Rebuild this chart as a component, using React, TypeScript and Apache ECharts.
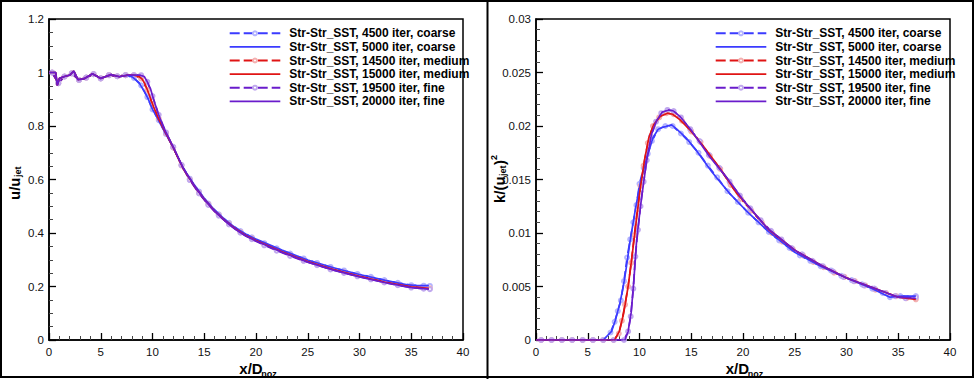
import React, { useEffect, useRef } from "react";
import * as echarts from "echarts";

type Pt = [number, number];

const SERIES_NAMES = [
  "Str-Str_SST, 4500 iter, coarse",
  "Str-Str_SST, 5000 iter, coarse",
  "Str-Str_SST, 14500 iter, medium",
  "Str-Str_SST, 15000 iter, medium",
  "Str-Str_SST, 19500 iter, fine",
  "Str-Str_SST, 20000 iter, fine",
];

const X_RANGE = [0, 40, 5];
const U_RANGE = [0, 1.2, 0.2];
const K_RANGE = [0, 0.03, 0.005];

// ---------- left panel: u/u_jet ----------
const uCoarse4500: Pt[] = [[0.3,1.0],[0.9,0.96],[1.5,0.985],[2.2,0.997],[2.9,0.972],[3.6,0.981],[4.3,0.994],[5.0,0.978],[5.8,0.99],[6.6,0.986],[7.4,0.99],[8.2,0.98],[8.9,0.952],[9.5,0.908],[10.0,0.862],[10.6,0.822],[11.3,0.77],[12,0.72],[12.8,0.655],[13.6,0.603],[14.5,0.555],[15.4,0.51],[16.4,0.47],[17.4,0.438],[18.5,0.407],[19.6,0.384],[20.8,0.362],[22,0.343],[23.3,0.323],[24.6,0.305],[25.9,0.288],[27.2,0.273],[28.5,0.26],[29.8,0.247],[31.1,0.236],[32.4,0.224],[33.7,0.214],[35,0.205],[36.2,0.203],[36.8,0.202]];
const uCoarse5000: Pt[] = [[0,1.0],[0.65,1.0],[0.8,0.952],[1.0,0.978],[1.5,0.985],[2.0,0.99],[2.4,1.005],[2.8,0.973],[3.4,0.977],[4.2,0.995],[5.0,0.978],[6.0,0.992],[6.8,0.984],[7.6,0.99],[8.1,0.982],[8.7,0.962],[9.2,0.93],[9.6,0.9],[10.0,0.862],[10.5,0.828],[11,0.79],[12,0.72],[13,0.64],[14,0.582],[15,0.53],[16,0.486],[17,0.45],[18,0.42],[19,0.396],[20,0.377],[22.5,0.336],[25,0.299],[27.5,0.27],[30,0.245],[32.5,0.223],[34.5,0.207],[35.5,0.203],[36.7,0.203]];
const uMedium14500: Pt[] = [[0.3,1.0],[0.9,0.96],[1.5,0.985],[2.2,0.997],[2.9,0.972],[3.6,0.981],[4.3,0.994],[5.0,0.978],[5.8,0.99],[6.6,0.986],[7.4,0.99],[8.2,0.99],[8.9,0.978],[9.5,0.935],[10.0,0.88],[10.6,0.828],[11.3,0.773],[12,0.72],[12.8,0.653],[13.6,0.6],[14.5,0.55],[15.4,0.507],[16.4,0.467],[17.4,0.434],[18.5,0.403],[19.6,0.38],[20.8,0.357],[22,0.337],[23.3,0.317],[24.6,0.298],[25.9,0.282],[27.2,0.266],[28.5,0.253],[29.8,0.24],[31.1,0.229],[32.4,0.217],[33.7,0.207],[35,0.199],[36.2,0.195],[36.8,0.193]];
const uMedium15000: Pt[] = [[0,1.0],[0.65,1.0],[0.8,0.952],[1.0,0.978],[1.5,0.985],[2.0,0.99],[2.4,1.005],[2.8,0.973],[3.4,0.977],[4.2,0.995],[5.0,0.978],[6.0,0.992],[6.8,0.984],[7.6,0.99],[8.2,0.99],[8.7,0.985],[9.0,0.975],[9.3,0.955],[9.6,0.925],[10.1,0.872],[10.5,0.835],[11,0.795],[12,0.72],[13,0.638],[14,0.578],[15,0.526],[16,0.482],[17,0.446],[18,0.416],[19,0.391],[20,0.372],[22.5,0.33],[25,0.293],[27.5,0.263],[30,0.238],[32.5,0.216],[35,0.199],[36.7,0.193]];
const uFine19500: Pt[] = [[0.3,1.0],[0.9,0.96],[1.5,0.985],[2.2,0.997],[2.9,0.972],[3.6,0.981],[4.3,0.994],[5.0,0.978],[5.8,0.99],[6.6,0.986],[7.4,0.99],[8.2,0.99],[8.9,0.99],[9.5,0.965],[10.0,0.912],[10.6,0.842],[11.3,0.776],[12,0.722],[12.8,0.653],[13.6,0.598],[14.5,0.548],[15.4,0.505],[16.4,0.465],[17.4,0.432],[18.5,0.401],[19.6,0.377],[20.8,0.354],[22,0.334],[23.3,0.314],[24.6,0.296],[25.9,0.28],[27.2,0.264],[28.5,0.251],[29.8,0.238],[31.1,0.227],[32.4,0.215],[33.7,0.205],[35,0.196],[36.2,0.192],[36.8,0.19]];
const uFine20000: Pt[] = [[0,1.0],[0.65,1.0],[0.8,0.952],[1.0,0.978],[1.5,0.985],[2.0,0.99],[2.4,1.005],[2.8,0.973],[3.4,0.977],[4.2,0.995],[5.0,0.978],[6.0,0.992],[6.8,0.984],[7.6,0.99],[8.2,0.99],[8.8,0.99],[9.2,0.985],[9.5,0.965],[9.8,0.94],[10.1,0.9],[10.5,0.852],[11,0.8],[12,0.722],[13,0.64],[14,0.578],[15,0.525],[16,0.481],[17,0.445],[18,0.414],[19,0.389],[20,0.37],[22.5,0.328],[25,0.291],[27.5,0.261],[30,0.236],[32.5,0.214],[35,0.196],[36.7,0.19]];

// ---------- right panel: k/(u_jet)^2 ----------
const kCoarse4500: Pt[] = [[0.5,0],[1.5,0],[2.5,0],[3.5,0],[4.5,0],[5.5,0],[6.5,0],[7.2,0.0007],[7.6,0.0017],[7.9,0.0027],[8.2,0.0037],[8.5,0.0055],[8.8,0.0077],[9.1,0.0094],[9.4,0.011],[9.7,0.0126],[10.0,0.0146],[10.4,0.0161],[10.8,0.0174],[11.2,0.0186],[11.8,0.0197],[12.5,0.02],[13.2,0.02],[14.0,0.0193],[14.8,0.0185],[15.7,0.0175],[16.6,0.0163],[17.5,0.0152],[18.5,0.0139],[19.5,0.0129],[20.5,0.0119],[21.5,0.011],[22.5,0.0101],[23.5,0.0093],[24.5,0.0086],[25.5,0.0079],[26.5,0.0074],[27.5,0.0069],[28.5,0.0065],[29.5,0.006],[30.5,0.0056],[31.5,0.0052],[32.5,0.0048],[33.5,0.0044],[34.2,0.004],[35.2,0.0041],[36.7,0.0041]];
const kCoarse5000: Pt[] = [[0,0],[6.5,0],[7.3,0.0008],[7.65,0.0018],[8.1,0.0034],[8.45,0.0051],[8.7,0.0066],[9.1,0.0093],[9.6,0.0122],[10.1,0.0148],[10.7,0.017],[11.3,0.0189],[11.8,0.0197],[12.3,0.0199],[13.1,0.0201],[13.6,0.0197],[14.5,0.0189],[15.5,0.0177],[17,0.0157],[18.7,0.0137],[20.3,0.0121],[22.5,0.0101],[25,0.0082],[27.5,0.0069],[30,0.0058],[32.5,0.0048],[34.2,0.004],[35.2,0.0041],[36.7,0.0041]];
const kMedium14500: Pt[] = [[0.5,0],[1.5,0],[2.5,0],[3.5,0],[4.5,0],[5.5,0],[6.5,0],[7.5,0],[8.0,0.0006],[8.3,0.0018],[8.6,0.0033],[8.9,0.005],[9.2,0.0072],[9.5,0.0098],[9.8,0.0122],[10.1,0.0144],[10.4,0.0163],[10.8,0.0184],[11.3,0.02],[11.9,0.0208],[12.6,0.0212],[13.3,0.0211],[14.1,0.0205],[15.0,0.0195],[15.9,0.0185],[16.8,0.0172],[17.8,0.016],[18.8,0.0145],[19.8,0.0132],[20.8,0.0121],[21.8,0.011],[22.8,0.01],[23.8,0.0092],[24.8,0.0085],[25.8,0.0079],[26.8,0.0073],[27.8,0.0068],[28.8,0.0063],[29.8,0.0059],[30.8,0.0055],[31.8,0.0051],[32.8,0.0047],[33.8,0.0044],[34.8,0.0041],[35.8,0.0039],[36.7,0.0038]];
const kMedium15000: Pt[] = [[0,0],[7.6,0],[8.05,0.0008],[8.45,0.0024],[8.9,0.005],[9.25,0.0076],[9.6,0.0104],[10.05,0.014],[10.5,0.0169],[10.9,0.0189],[11.35,0.0201],[12.0,0.0209],[12.7,0.0212],[13.2,0.0211],[13.9,0.0206],[14.9,0.0196],[16.1,0.0182],[17.8,0.016],[19.4,0.0137],[20.5,0.0125],[22.5,0.0103],[25,0.0084],[27.5,0.007],[30,0.0058],[32.5,0.0049],[35,0.004],[36.7,0.0038]];
const kFine19500: Pt[] = [[0.5,0],[1.5,0],[2.5,0],[3.5,0],[4.5,0],[5.5,0],[6.5,0],[7.5,0],[8.5,0],[8.9,0.0008],[9.15,0.0022],[9.4,0.0048],[9.6,0.0078],[9.85,0.0103],[10.1,0.0125],[10.4,0.0148],[10.7,0.0168],[11.1,0.019],[11.6,0.0204],[12.1,0.0212],[12.7,0.0215],[13.3,0.0214],[14.0,0.0208],[14.9,0.0197],[15.8,0.0186],[16.7,0.0173],[17.7,0.0161],[18.7,0.0148],[19.7,0.0135],[20.7,0.0123],[21.7,0.0112],[22.7,0.0102],[23.7,0.0094],[24.7,0.0086],[25.7,0.008],[26.7,0.0074],[27.7,0.0069],[28.7,0.0064],[29.7,0.0059],[30.7,0.0055],[31.7,0.0051],[32.7,0.0048],[33.7,0.0044],[34.7,0.0041],[35.7,0.0039],[36.7,0.004]];
const kFine20000: Pt[] = [[0,0],[8.6,0],[8.9,0.0008],[9.2,0.0026],[9.45,0.0055],[9.72,0.0093],[10.0,0.0117],[10.2,0.0133],[10.5,0.0154],[10.75,0.0171],[11.15,0.0192],[11.65,0.0205],[12.2,0.0213],[12.8,0.0215],[13.3,0.0214],[14.0,0.0208],[15.0,0.0196],[16.8,0.0171],[18.4,0.0152],[20,0.0131],[22.3,0.0105],[25,0.0084],[27.5,0.007],[30,0.0058],[32.5,0.0049],[35,0.004],[36.7,0.0039]];

const LINE_COLORS = ["#3b3bff", "#3b3bff", "#e01414", "#e01414", "#6a1ccc", "#6a1ccc"];
const MARKER_COLORS = ["#b4b4ff", "#b4b4ff", "#f4b0b0", "#f4b0b0", "#c0a8ee", "#c0a8ee"];
const DASHED = [true, false, true, false, true, false];

const U_DATA = [uCoarse4500, uCoarse5000, uMedium14500, uMedium15000, uFine19500, uFine20000];
const K_DATA = [kCoarse4500, kCoarse5000, kMedium14500, kMedium15000, kFine19500, kFine20000];

const FONT = '"Liberation Sans", Arial, Helvetica, sans-serif';

function makeSeries(data: Pt[], i: number, axis: number) {
  const dashed = DASHED[i];
  return {
    type: "line",
    name: SERIES_NAMES[i],
    xAxisIndex: axis,
    yAxisIndex: axis,
    data,
    silent: true,
    z: dashed ? 2 : 3,
    symbol: dashed ? "emptyCircle" : "none",
    showSymbol: dashed,
    symbolSize: 4,
    lineStyle: { color: LINE_COLORS[i], width: 1.7, type: dashed ? [10, 4] : "solid" },
    itemStyle: { color: dashed ? MARKER_COLORS[i] : LINE_COLORS[i], borderWidth: 1 },
    emphasis: { disabled: true },
  };
}

function makeXAxis(idx: number) {
  return {
    type: "value",
    gridIndex: idx,
    min: X_RANGE[0],
    max: X_RANGE[1],
    interval: X_RANGE[2],
    axisLine: { show: true, onZero: false, lineStyle: { color: "#000", width: 1.5 } },
    axisTick: { show: true, inside: true, length: 7, lineStyle: { color: "#000", width: 1.3 } },
    minorTick: { show: true, splitNumber: 5, length: 4, lineStyle: { color: "#444", width: 1 } },
    splitLine: { show: false },
    axisLabel: { color: "#111", fontSize: 11.5, fontFamily: FONT, margin: 6 },
  };
}

function makeYAxis(idx: number, range: number[], minorSplit: number) {
  return {
    type: "value",
    gridIndex: idx,
    min: range[0],
    max: range[1],
    interval: range[2],
    axisLine: { show: true, onZero: false, lineStyle: { color: "#000", width: 1.5 } },
    axisTick: { show: true, inside: true, length: 7, lineStyle: { color: "#000", width: 1.3 } },
    minorTick: { show: true, splitNumber: minorSplit, length: 4, lineStyle: { color: "#444", width: 1 } },
    splitLine: { show: false },
    axisLabel: { color: "#111", fontSize: 11.5, fontFamily: FONT, margin: 5 },
  };
}

function makeLegend(left: number) {
  return {
    orient: "vertical",
    left,
    top: 26.5,
    padding: 0,
    itemWidth: 50.6,
    itemHeight: 5,
    itemGap: 0,
    selectedMode: false,
    textStyle: { color: "#000", fontSize: 12, fontWeight: "bold", fontFamily: FONT, lineHeight: 13.6, padding: [0, 0, 0, 4] },
    data: SERIES_NAMES.map((n, i) =>
      DASHED[i] ? { name: n } : { name: n, icon: "path://M0,0H50V1.7H0Z" }
    ),
  };
}

function t(text: string, x: number, y: number, size: number) {
  return {
    type: "text",
    x,
    y,
    style: {
      text,
      fill: "#000",
      font: `bold ${size}px ${FONT}`,
      textAlign: "left",
      textVerticalAlign: "middle",
      align: "left",
      verticalAlign: "middle",
    },
  };
}

export default function App() {
  const ref = useRef<HTMLDivElement>(null);
  useEffect(() => {
    document.body.style.margin = "0";
    const chart = echarts.init(ref.current!, null, { renderer: "svg", width: 975, height: 379 });
    const option: any = {
      animation: false,
      backgroundColor: "#fff",
      grid: [
        { left: 49, top: 19, width: 414, height: 321, show: true, borderColor: "#000", borderWidth: 1.5, backgroundColor: "transparent" },
        { left: 536, top: 19, width: 414, height: 321, show: true, borderColor: "#000", borderWidth: 1.5, backgroundColor: "transparent" },
      ],
      xAxis: [makeXAxis(0), makeXAxis(1)],
      yAxis: [makeYAxis(0, U_RANGE, 4), makeYAxis(1, K_RANGE, 5)],
      legend: [makeLegend(228.7), makeLegend(714.7)],
      series: [
        ...U_DATA.map((d, i) => makeSeries(d, i, 0)),
        ...K_DATA.map((d, i) => makeSeries(d, i, 1)),
      ],
      graphic: [
        { type: "rect", shape: { x: 1, y: 1, width: 972, height: 376 }, style: { fill: "none", stroke: "#000", lineWidth: 2 } },
        { type: "line", shape: { x1: 487.5, y1: 0, x2: 487.5, y2: 379 }, style: { stroke: "#000", lineWidth: 2 } },
        { type: "group", x: 14, y: 200, rotation: Math.PI / 2, children: [t("u/u", 0, 0, 15), t("jet", 23, 4, 9)] },
        { type: "group", x: 499, y: 203, rotation: Math.PI / 2, children: [t("k/(u", 0, 0, 15), t("jet", 27, 4, 9), t(")", 38, 0, 15), t("2", 43, -5, 9)] },
        { type: "group", x: 239.3, y: 368, children: [t("x/D", 0, 0, 15), t("noz", 22, 6, 9)] },
        { type: "group", x: 725.7, y: 368, children: [t("x/D", 0, 0, 15), t("noz", 22, 6, 9)] },
      ],
    };
    chart.setOption(option);
    return () => chart.dispose();
  }, []);
  return <div ref={ref} style={{ position: "absolute", left: 0, top: 0, width: 975, height: 379 }} />;
}
